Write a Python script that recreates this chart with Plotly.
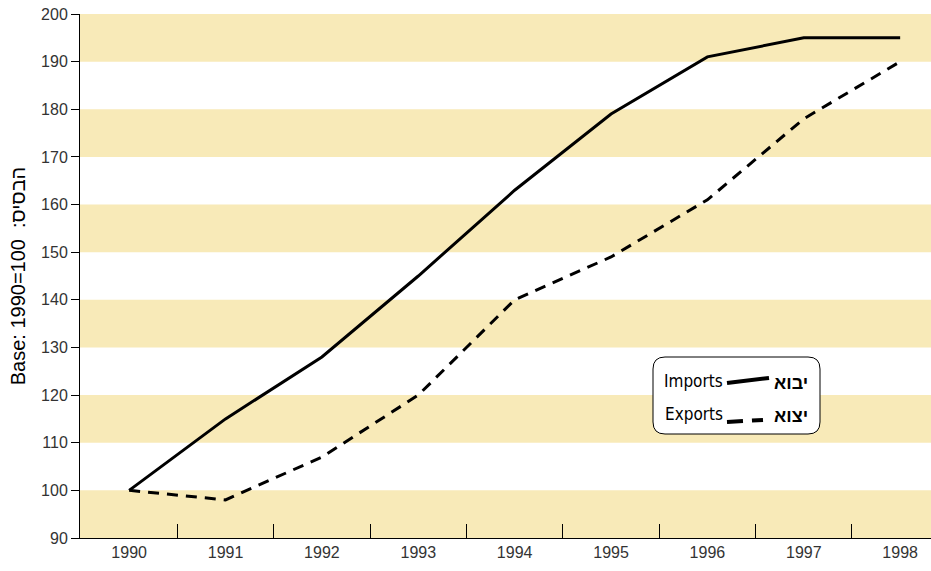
import plotly.graph_objects as go

# Data (index, base 1990=100)
years = ["1990", "1991", "1992", "1993", "1994", "1995", "1996", "1997", "1998"]
imports = [100, 115, 128, 145, 163, 179, 191, 195, 195]
exports = [100, 98, 107, 120, 140, 149, 161, 178, 190]
y_ticks = [90, 100, 110, 120, 130, 140, 150, 160, 170, 180, 190, 200]
band_starts = [90, 110, 130, 150, 170, 190]

band_color = "#F8EAB8"
font_main = "Liberation Sans"
font_narrow = "DejaVu Sans Condensed, Liberation Sans"

fig = go.Figure()

fig.add_trace(go.Scatter(x=years, y=imports, mode="lines",
                         line=dict(color="black", width=3), showlegend=False))
fig.add_trace(go.Scatter(x=years, y=exports, mode="lines",
                         line=dict(color="black", width=3, dash="11px,8px"),
                         showlegend=False))

# Alternating horizontal bands
for b in band_starts:
    fig.add_shape(type="rect", xref="paper", yref="y", x0=0, x1=1, y0=b, y1=b + 10,
                  fillcolor=band_color, line_width=0, layer="below")

# Legend box (rounded rectangle, paper coords from page pixels)
def px_x(p):
    return (p - 80) / 851.0

def px_y(p):
    return (538 - p) / 524.0

x0, x1, y0, y1 = px_x(653), px_x(820), px_y(434), px_y(357)
rx, ry = 12 / 851.0, 12 / 524.0
path = (f"M {x0+rx},{y0} L {x1-rx},{y0} Q {x1},{y0} {x1},{y0+ry} "
        f"L {x1},{y1-ry} Q {x1},{y1} {x1-rx},{y1} L {x0+rx},{y1} "
        f"Q {x0},{y1} {x0},{y1-ry} L {x0},{y0+ry} Q {x0},{y0} {x0+rx},{y0} Z")
fig.add_shape(type="path", xref="paper", yref="paper", path=path,
              fillcolor="white", line=dict(color="black", width=1))

# Legend line samples
fig.add_shape(type="line", xref="paper", yref="paper",
              x0=px_x(727), x1=px_x(769), y0=px_y(383), y1=px_y(378),
              line=dict(color="black", width=4))
fig.add_shape(type="line", xref="paper", yref="paper",
              x0=px_x(727), x1=px_x(763), y0=px_y(422), y1=px_y(420),
              line=dict(color="black", width=4, dash="16px,9px"))

legend_labels = [("Imports", "יבוא", 381), ("Exports", "יצוא", 414)]
for en, he, py in legend_labels:
    fig.add_annotation(xref="paper", yref="paper", x=px_x(723), y=px_y(py),
                       text=en, showarrow=False, xanchor="right", yanchor="middle",
                       xshift=2,
                       font=dict(family=font_narrow, size=17, color="black"))
    fig.add_annotation(xref="paper", yref="paper", x=px_x(772), y=px_y(py + 2),
                       text="<b>" + he + "</b>", showarrow=False,
                       xanchor="left", yanchor="middle",
                       font=dict(family=font_main, size=18, color="black"))

fig.update_layout(
    width=931, height=571,
    margin=dict(l=80, r=0, t=14, b=33),
    plot_bgcolor="white", paper_bgcolor="white",
    font=dict(family=font_main, size=16, color="#333333"),
    xaxis=dict(type="category", range=[-0.51, 8.32], showgrid=False, automargin=False,
               showline=True, linecolor="black", linewidth=1,
               ticks="inside", tickson="boundaries", ticklen=14, tickcolor="black",
               tickfont=dict(size=16, color="#333333")),
    yaxis=dict(range=[90, 200], tickvals=y_ticks, showgrid=False, zeroline=False,
               automargin=False, ticklabeloverflow="allow",
               showline=True, linecolor="black", linewidth=1,
               ticks="outside", ticklen=8, tickcolor="black",
               tickfont=dict(size=16, color="#333333"),
               title=dict(text="Base: 1990=100  :הבסיס", standoff=10,
                          font=dict(family=font_main, size=20, color="black"))),
)

# drop the browser's default 8px body margin so the figure sits at the page corner
fig.write_html("out.html", config={"displayModeBar": False},
               post_script="document.body.style.margin = '0';")
